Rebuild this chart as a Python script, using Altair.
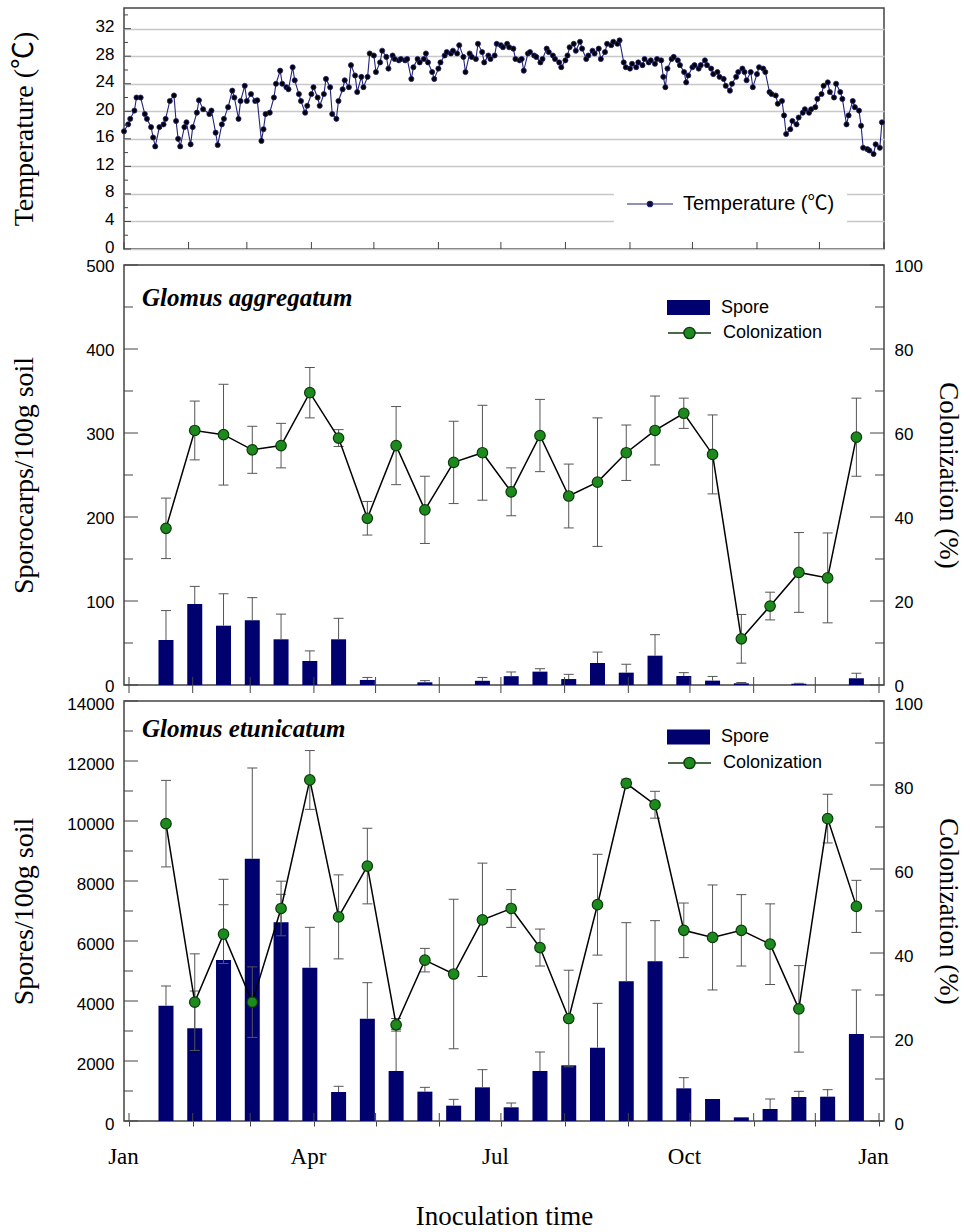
import altair as alt
import pandas as pd

# ---------------- data ----------------
TEMP_DAY = [0, 2, 3, 5, 6, 8, 10, 11, 13, 14,
            15, 17, 19, 20, 22, 24, 25, 26, 27, 29,
            30, 32, 33, 35, 36, 38, 41, 42, 44, 45,
            47, 48, 50, 52, 53, 55, 56, 58, 59, 61,
            63, 64, 66, 67, 68, 70, 72, 73, 75, 76,
            78, 79, 81, 82, 84, 85, 87, 88, 90, 91,
            93, 94, 96, 97, 99, 100, 102, 103, 105, 106,
            108, 109, 111, 112, 114, 115, 117, 118, 120, 121,
            123, 124, 126, 127, 129, 130, 132, 133, 135, 136,
            138, 139, 141, 142, 144, 145, 146, 148, 149, 151,
            152, 154, 155, 157, 158, 160, 161, 163, 164, 166,
            167, 169, 170, 172, 173, 175, 176, 178, 179, 181,
            182, 184, 185, 187, 188, 190, 191, 192, 194, 195,
            197, 198, 200, 201, 203, 204, 206, 207, 209, 210,
            212, 213, 214, 216, 217, 219, 220, 222, 223, 225,
            226, 228, 229, 231, 232, 234, 235, 237, 238, 240,
            241, 243, 244, 246, 247, 249, 250, 252, 253, 255,
            256, 258, 259, 260, 261, 263, 264, 266, 267, 269,
            270, 271, 273, 274, 276, 277, 279, 280, 282, 283,
            285, 286, 288, 289, 291, 292, 294, 295, 297, 298,
            299, 301, 302, 304, 305, 307, 308, 310, 311, 313,
            314, 316, 317, 318, 320, 321, 323, 324, 326, 327,
            329, 330, 332, 333, 335, 336, 338, 339, 341, 342,
            344, 345, 347, 348, 350, 351, 353, 354, 355, 357,
            358, 360, 361, 363, 364]

TEMP_C = [17.1, 18.1, 18.9, 20.1, 22.0, 22.0, 19.6, 18.9, 17.7, 16.2,
          14.9, 17.7, 18.1, 18.9, 21.5, 22.3, 18.6, 16.0, 14.9, 17.7,
          18.4, 15.2, 17.7, 19.8, 21.6, 20.3, 19.6, 20.1, 16.9, 15.1,
          18.1, 18.9, 20.6, 23.0, 22.0, 18.9, 21.5, 23.7, 21.5, 22.5,
          21.5, 21.6, 15.7, 17.4, 19.6, 19.8, 22.0, 24.0, 25.9, 24.0,
          23.5, 23.2, 26.4, 24.5, 22.5, 21.5, 19.8, 20.8, 22.5, 23.5,
          22.0, 20.8, 22.5, 24.7, 23.5, 19.6, 18.9, 21.5, 23.2, 24.5,
          23.5, 26.7, 25.2, 22.8, 25.0, 23.5, 25.0, 28.4, 28.1, 25.7,
          27.1, 28.8, 27.9, 26.2, 28.1, 27.6, 27.4, 27.6, 27.4, 27.6,
          24.7, 26.4, 27.6, 27.1, 27.6, 28.4, 27.1, 25.7, 24.7, 26.2,
          27.1, 28.1, 28.6, 28.4, 28.8, 28.4, 29.6, 27.9, 25.7, 28.4,
          27.9, 27.6, 29.8, 28.6, 27.1, 28.1, 27.6, 28.1, 29.8, 29.6,
          29.3, 29.8, 29.3, 29.1, 27.6, 27.4, 27.6, 25.9, 28.4, 28.6,
          28.1, 27.9, 27.1, 27.6, 29.1, 28.6, 28.1, 27.6, 27.1, 26.4,
          27.4, 28.1, 29.3, 29.8, 28.8, 30.1, 29.1, 27.6, 28.1, 28.8,
          28.4, 29.1, 27.6, 28.6, 29.8, 29.6, 30.1, 29.8, 30.3, 27.1,
          26.4, 26.2, 26.9, 26.4, 27.1, 26.7, 27.6, 27.1, 27.4, 26.9,
          27.6, 27.4, 25.0, 23.5, 26.2, 27.6, 27.9, 27.4, 26.7, 25.7,
          24.2, 25.2, 26.4, 26.7, 26.2, 26.7, 27.4, 26.7, 26.2, 25.4,
          25.7, 25.0, 24.7, 23.7, 23.0, 24.0, 25.0, 25.7, 26.2, 25.7,
          24.5, 25.7, 23.5, 25.4, 26.4, 26.2, 25.7, 22.8, 22.5, 22.3,
          21.1, 21.5, 19.4, 16.7, 17.4, 18.6, 18.1, 19.1, 19.8, 20.3,
          19.8, 20.3, 20.6, 21.8, 22.5, 23.7, 24.2, 22.8, 22.0, 24.0,
          22.8, 21.8, 18.1, 19.4, 21.5, 20.6, 20.1, 17.9, 14.7, 14.5,
          14.3, 13.8, 15.2, 14.7, 18.4]

SAMPLE_DAY = [18, 32, 46, 60, 74, 88, 102, 116, 130, 144, 158, 172, 186,
              200, 214, 228, 242, 256, 270, 284, 298, 312, 326, 340, 354]

AGG_SPORE = [53.6, 96.4, 70.6, 77, 54.4, 28.6, 54.4, 6, 0, 3.2, 0, 5, 10.5,
             15.9, 7.1, 26.2, 14.7, 34.9, 10.7, 5.2, 2, 0, 1.5, 0, 8]
AGG_SPORE_ERR = [35, 21, 38, 27, 30, 12, 25, 3, 0, 2, 0, 4, 5,
                 3.5, 5.6, 13, 10, 25, 4, 5, 1, 0, 0.5, 0, 6]
AGG_COL = [37.3, 60.6, 59.6, 56, 57, 69.6, 58.8, 39.7, 57, 41.7, 53, 55.3, 46,
           59.4, 45, 48.3, 55.3, 60.6, 64.7, 54.9, 11, 18.8, 26.8, 25.5, 59]
AGG_COL_ERR = [7.2, 7, 12, 5.6, 5.3, 6, 2, 4, 9.3, 8, 9.8, 11.3, 5.7,
               8.6, 7.6, 15.3, 6.6, 8.2, 3.6, 9.4, 5.8, 3.3, 9.5, 10.7, 9.3]

ETU_SPORE = [3843, 3090, 5367, 8744, 6622, 5111, 967, 3411, 1667, 978, 511, 1122, 456,
             1667, 1856, 2444, 4656, 5322, 1089, 733, 122, 400, 800, 811, 2900]
ETU_SPORE_ERR = [657, 1243, 2690, 3023, 934, 1345, 190, 1200, 1390, 144, 211, 589, 144,
                 633, 0, 1478, 1955, 1356, 355, 0, 0, 333, 189, 233, 1467]
ETU_COL = [70.8, 28.3, 44.5, 28.3, 50.6, 81.2, 48.6, 60.7, 22.9, 38.3, 35, 47.9, 50.6,
           41.3, 24.4, 51.5, 80.4, 75.3, 45.4, 43.7, 45.4, 42.1, 26.7, 72, 51.1]
ETU_COL_ERR = [10.3, 11.5, 7, 8.4, 6.5, 7, 10, 9, 1.5, 2.8, 17.8, 13.5, 4.5,
               4.4, 11.5, 12, 1.0, 3.2, 6.5, 12.5, 8.5, 9.6, 10.3, 5.8, 6.2]

MONTH_DAY = [0, 31, 59, 90, 120, 151, 181, 212, 243, 273, 304, 334, 365]
MONTH_LABEL = ["Jan", "", "", "Apr", "", "", "Jul", "", "", "Oct", "", "", "Jan"]

TEMP_MAJOR = [0, 4, 8, 12, 16, 20, 24, 28, 32]
TEMP_MINOR = [2, 6, 10, 14, 18, 22, 26, 30, 34]
AGG_MAJOR = [0, 100, 200, 300, 400, 500]
AGG_MINOR = [50, 150, 250, 350, 450]
ETU_MAJOR = [0, 2000, 4000, 6000, 8000, 10000, 12000, 14000]
ETU_MINOR = [1000, 3000, 5000, 7000, 9000, 11000, 13000]
COL_MAJOR = [0, 20, 40, 60, 80, 100]
COL_MINOR = [10, 30, 50, 70, 90]

TEMP_NAME = "Temperature (℃)"
SPORE_NAME = "Spore"
COL_NAME = "Colonization"
X_TITLE = "Inoculation time"

# ---------------- styling ----------------
SANS = "Liberation Sans, Arial, Noto Sans CJK SC"
SERIF = "Liberation Serif, Times New Roman, Noto Sans CJK SC"
NAVY = "#00006e"
LINE_NAVY = "#23237a"
GREEN = "#1d8a1d"
DARK_GREEN = "#0c3a0c"
ERR = "#555555"
AX = "#444444"
TICK_FS = 17

W = 760
H_T, H_M, H_B = 241, 420, 420

RECT_SYM = "M-1,-0.35L1,-0.35L1,0.35L-1,0.35Z"
LINE_CIRCLE_SYM = ("M-1,0L-0.26,0M0.26,0L1,0M0.26,0A0.26,0.26 0 1,1 -0.26,0"
                   "A0.26,0.26 0 1,1 0.26,0Z")
LINE_DOT_SYM = "M-1,0L1,0M0.12,0A0.12,0.12 0 1,1 -0.12,0A0.12,0.12 0 1,1 0.12,0Z"

x_scale = alt.Scale(domain=[0, 365], nice=False, zero=False)
label_expr = " : ".join(
    f"datum.value == {d} ? '{l}'" for d, l in zip(MONTH_DAY, MONTH_LABEL) if l
) + " : ''"

X_AXIS = alt.Axis(values=MONTH_DAY, labelExpr=label_expr, grid=False, domain=False, ticks=True,
                  tickSize=5, tickColor=AX, labelFont=SERIF, labelFontSize=23,
                  labelColor="black", labelPadding=19, labelOffset=-6, labelFlush=False,
                  labelOverlap=False, title=X_TITLE, titleFont=SERIF, titleFontSize=27,
                  titleFontWeight="normal", titleColor="black", titlePadding=35)


def xenc(field, xaxis):
    return alt.X(f"{field}:Q", scale=x_scale, axis=xaxis)


def ticks_y(values, scale, yaxis, length, side):
    df = pd.DataFrame({"v": values})
    if side == "left":
        xs = dict(x=alt.value(0), x2=alt.value(length))
    else:
        xs = dict(x=alt.value(W), x2=alt.value(W - length))
    return alt.Chart(df).mark_rule(color=AX, strokeWidth=1).encode(
        y=alt.Y("v:Q", scale=scale, axis=yaxis), **xs)


def ticks_x(H, inner, outer, xaxis):
    df = pd.DataFrame({"v": MONTH_DAY})
    return alt.Chart(df).mark_rule(color=AX, strokeWidth=1).encode(
        x=xenc("v", xaxis), y=alt.value(H + outer), y2=alt.value(H - inner))


def left_axis(values, title, H, offset, grid=False):
    return alt.Axis(values=values, format="d", grid=grid, gridColor="#c8c8c8", gridWidth=1.5,
                    ticks=False, domain=False, labelOffset=offset,
                    labelFont=SANS, labelFontSize=TICK_FS, labelColor="black", labelPadding=10,
                    title=title, titleFont=SERIF, titleFontSize=28, titleFontWeight="normal",
                    titleColor="black", titleX=-100, titleY=H / 2, titleAngle=270,
                    titleBaseline="middle")


def right_axis(H, offset):
    return alt.Axis(orient="right", values=COL_MAJOR, format="d", grid=False, ticks=False,
                    domain=False, labelOffset=offset, labelFont=SANS, labelFontSize=TICK_FS,
                    labelColor="black", labelPadding=10, title="Colonization (%)",
                    titleFont=SERIF, titleFontSize=27, titleFontWeight="normal",
                    titleColor="black", titleX=63, titleY=H / 2, titleAngle=90,
                    titleBaseline="middle")


# ---------------- top panel: temperature ----------------
temp_df = pd.DataFrame({"day": TEMP_DAY, "temp": TEMP_C})
temp_df["name"] = TEMP_NAME
t_scale = alt.Scale(domain=[0, 35], nice=False, zero=True)
t_axis = left_axis(TEMP_MAJOR, TEMP_NAME, H_T, -2, grid=True)

t_line = alt.Chart(temp_df).mark_line(color=LINE_NAVY, strokeWidth=1.1).encode(
    x=xenc("day", None), y=alt.Y("temp:Q", scale=t_scale, axis=t_axis))
t_pts = alt.Chart(temp_df).mark_point(filled=True, size=26, opacity=1, fill="black",
                                      strokeWidth=0.8).encode(
    x=xenc("day", None), y=alt.Y("temp:Q", scale=t_scale, axis=t_axis),
    stroke=alt.Stroke("name:N", scale=alt.Scale(domain=[TEMP_NAME], range=[LINE_NAVY]),
                      legend=alt.Legend(orient="none", legendX=490, legendY=160, title=None,
                                        symbolType=LINE_DOT_SYM, symbolSize=2116,
                                        symbolStrokeWidth=1.2, symbolFillColor="black",
                                        labelFont=SANS, labelFontSize=20, labelColor="black",
                                        labelOffset=9, fillColor="white", padding=12)))

top = alt.layer(
    t_line, t_pts,
    ticks_y(TEMP_MAJOR, t_scale, t_axis, 7, "left"),
    ticks_y(TEMP_MINOR, t_scale, t_axis, 4, "left"),
    ticks_x(H_T, 7, 0, None),
).properties(width=W, height=H_T)


# ---------------- species panels ----------------
def species_panel(spore, spore_err, col, col_err, species, left_title, left_dom,
                  left_major, left_minor, text_y, leg_y1, leg_y2, show_x, H, lab_off):
    df = pd.DataFrame({"day": SAMPLE_DAY, "spore": spore, "spore_err": spore_err,
                       "col": col, "col_err": col_err})
    df["spore_name"] = SPORE_NAME
    df["col_name"] = COL_NAME
    ls = alt.Scale(domain=left_dom, nice=False, zero=True)
    rs = alt.Scale(domain=[0, 100], nice=False, zero=True)
    xa = X_AXIS if show_x else None
    la = left_axis(left_major, left_title, H, lab_off)
    ra = right_axis(H, lab_off)

    base = alt.Chart(df)
    bars = base.mark_bar(size=15, opacity=1).encode(
        x=xenc("day", xa), y=alt.Y("spore:Q", scale=ls, axis=la),
        fill=alt.Fill("spore_name:N", scale=alt.Scale(domain=[SPORE_NAME], range=[NAVY]),
                      legend=alt.Legend(orient="none", legendX=543, legendY=leg_y1, title=None,
                                        symbolType=RECT_SYM, symbolSize=1849,
                                        symbolStrokeWidth=0, labelFont=SANS, labelFontSize=18,
                                        labelColor="black", labelOffset=11)))
    sp = base.transform_filter("datum.spore_err > 0").transform_calculate(
        hi="datum.spore + datum.spore_err")
    sp_rule = sp.mark_rule(color=ERR, strokeWidth=1).encode(
        x=xenc("day", xa), y=alt.Y("spore:Q", scale=ls, axis=la), y2="hi:Q")
    sp_cap = sp.mark_tick(color=ERR, orient="horizontal", size=10, thickness=1,
                          opacity=1).encode(
        x=xenc("day", xa), y=alt.Y("hi:Q", scale=ls, axis=la))

    text_df = pd.DataFrame({"name": [species]})
    label = alt.Chart(text_df).mark_text(font=SERIF, fontSize=25, fontStyle="italic",
                                         fontWeight="bold", align="left", baseline="middle",
                                         color="black").encode(
        x=alt.value(18), y=alt.value(text_y), text="name:N")

    left = alt.layer(bars, sp_rule, sp_cap,
                     ticks_y(left_major, ls, la, 14, "left"),
                     ticks_y(left_minor, ls, la, 9, "left"),
                     ticks_x(H, 8, 0 if show_x else 8, xa),
                     label)

    ce = base.transform_calculate(lo="datum.col - datum.col_err",
                                  hi="datum.col + datum.col_err")
    c_rule = ce.mark_rule(color=ERR, strokeWidth=1).encode(
        x=xenc("day", xa), y=alt.Y("lo:Q", scale=rs, axis=ra), y2="hi:Q")
    c_cap_hi = ce.mark_tick(color=ERR, orient="horizontal", size=10, thickness=1,
                            opacity=1).encode(x=xenc("day", xa),
                                              y=alt.Y("hi:Q", scale=rs, axis=ra))
    c_cap_lo = ce.mark_tick(color=ERR, orient="horizontal", size=10, thickness=1,
                            opacity=1).encode(x=xenc("day", xa),
                                              y=alt.Y("lo:Q", scale=rs, axis=ra))
    c_line = base.mark_line(color="black", strokeWidth=1.5).encode(
        x=xenc("day", xa), y=alt.Y("col:Q", scale=rs, axis=ra))
    c_pts = base.mark_point(filled=True, shape="circle", size=110, opacity=1, fill=GREEN,
                            strokeWidth=1.2).encode(
        x=xenc("day", xa), y=alt.Y("col:Q", scale=rs, axis=ra),
        stroke=alt.Stroke("col_name:N", scale=alt.Scale(domain=[COL_NAME], range=[DARK_GREEN]),
                          legend=alt.Legend(orient="none", legendX=543, legendY=leg_y2,
                                            title=None, symbolType=LINE_CIRCLE_SYM,
                                            symbolSize=1849, symbolStrokeWidth=1.4,
                                            symbolFillColor=GREEN, labelFont=SANS,
                                            labelFontSize=18, labelColor="black",
                                            labelOffset=11)))
    right = alt.layer(c_rule, c_cap_hi, c_cap_lo, c_line, c_pts,
                      ticks_y(COL_MAJOR, rs, ra, 14, "right"),
                      ticks_y(COL_MINOR, rs, ra, 9, "right"))
    return alt.layer(left, right).resolve_scale(y="independent").properties(width=W, height=H)


mid = species_panel(AGG_SPORE, AGG_SPORE_ERR, AGG_COL, AGG_COL_ERR, "Glomus aggregatum",
                    "Sporocarps/100g soil", [0, 500], AGG_MAJOR, AGG_MINOR,
                    33, 21, 45.5, False, H_M, 1)
bot = species_panel(ETU_SPORE, ETU_SPORE_ERR, ETU_COL, ETU_COL_ERR, "Glomus etunicatum",
                    "Spores/100g soil", [0, 14000], ETU_MAJOR, ETU_MINOR,
                    28, 14.5, 39.5, True, H_B, 3)

chart = alt.vconcat(top, mid, bot, spacing=16, bounds="flush").resolve_scale(
    fill="independent", stroke="independent"
).resolve_legend(fill="independent", stroke="independent").properties(
    padding={"left": 9, "top": 7, "right": 8, "bottom": 0}
).configure_view(stroke="#444444", strokeWidth=1.5)

chart.save("out.html", embed_options={"renderer": "svg", "actions": False})
